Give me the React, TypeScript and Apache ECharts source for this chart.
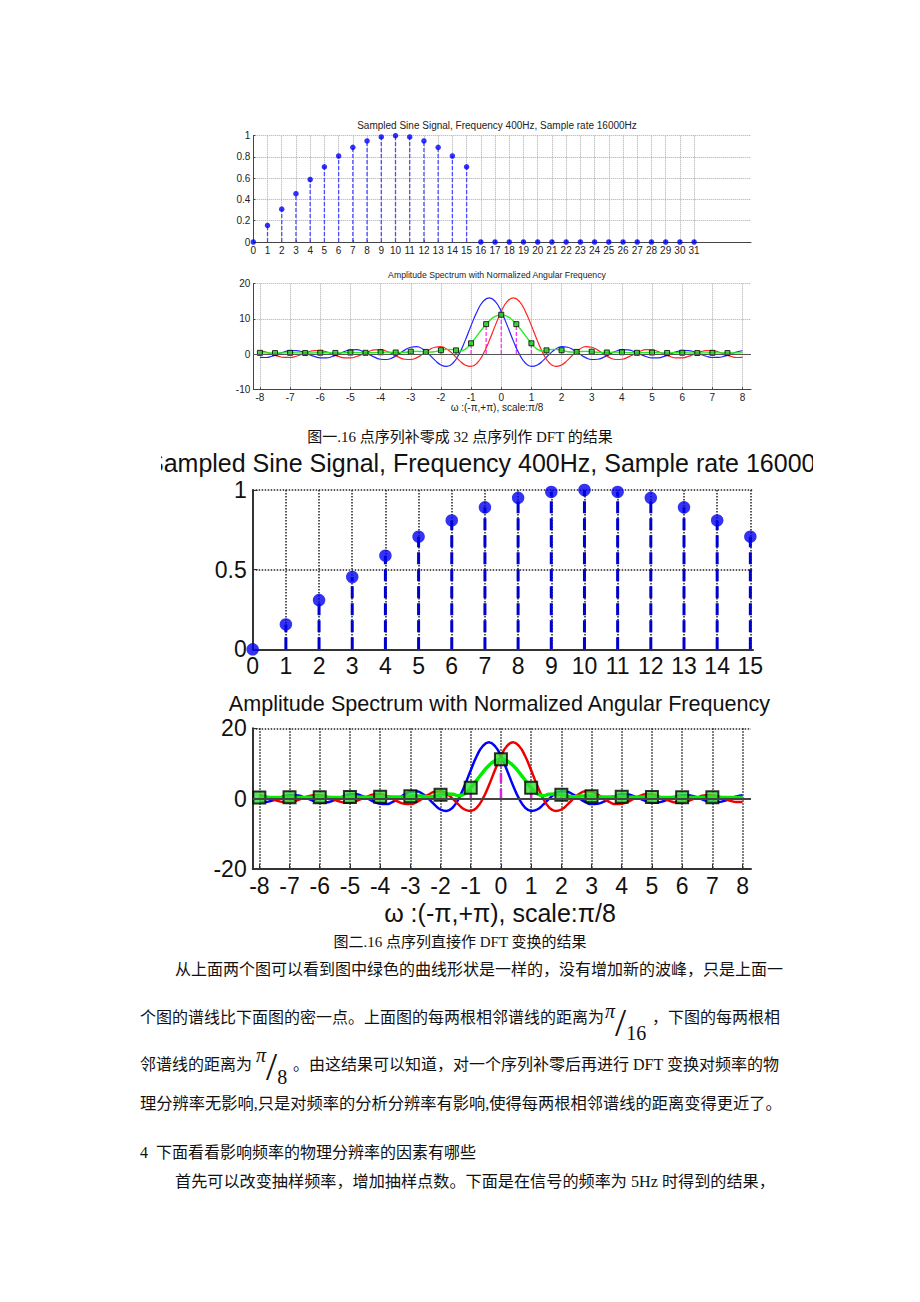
import React, { useEffect, useRef } from "react";
import * as echarts from "echarts";

// ---------- Figure 1 / Figure 2 : sampled sine ----------
const sampleIndex32 = [0, 1, 2, 3, 4, 5, 6, 7, 8, 9, 10, 11, 12, 13, 14, 15, 16, 17, 18, 19, 20, 21, 22, 23, 24, 25, 26, 27, 28, 29, 30, 31];
const zeroPadded32 = [0, 0.156, 0.309, 0.454, 0.588, 0.707, 0.809, 0.891, 0.951, 0.988, 1, 0.988, 0.951, 0.891, 0.809, 0.707, 0, 0, 0, 0, 0, 0, 0, 0, 0, 0, 0, 0, 0, 0, 0, 0];
const sampleIndex16 = [0, 1, 2, 3, 4, 5, 6, 7, 8, 9, 10, 11, 12, 13, 14, 15];
const sineSamples16 = [0, 0.156, 0.309, 0.454, 0.588, 0.707, 0.809, 0.891, 0.951, 0.988, 1, 0.988, 0.951, 0.891, 0.809, 0.707];

// ---------- spectrum curves (omega in units of pi/8) ----------
const omega = [-8, -7.8, -7.6, -7.4, -7.2, -7, -6.8, -6.6, -6.4, -6.2, -6, -5.8, -5.6, -5.4, -5.2, -5, -4.8, -4.6, -4.4, -4.2, -4, -3.8, -3.6, -3.4, -3.2, -3, -2.8, -2.6, -2.4, -2.2, -2, -1.8, -1.6, -1.4, -1.2, -1, -0.8, -0.6, -0.4, -0.2, 0, 0.2, 0.4, 0.6, 0.8, 1, 1.2, 1.4, 1.6, 1.8, 2, 2.2, 2.4, 2.6, 2.8, 3, 3.2, 3.4, 3.6, 3.8, 4, 4.2, 4.4, 4.6, 4.8, 5, 5.2, 5.4, 5.6, 5.8, 6, 6.2, 6.4, 6.6, 6.8, 7, 7.2, 7.4, 7.6, 7.8, 8];
const blueCurve = [-0.95, -0.96, -0.6, 0, 0.61, 0.99, 1.0, 0.63, 0, -0.65, -1.07, -1.09, -0.69, 0, 0.73, 1.21, 1.25, 0.8, 0, -0.87, -1.46, -1.54, -1.0, 0, 1.13, 1.95, 2.1, 1.4, 0, -1.7, -3.08, -3.5, -2.52, 0, 3.76, 8.09, 12.12, 14.97, 16, 14.97, 12.12, 8.09, 3.76, 0, -2.52, -3.5, -3.08, -1.7, 0, 1.4, 2.1, 1.95, 1.13, 0, -1.0, -1.54, -1.46, -0.87, 0, 0.8, 1.25, 1.21, 0.73, 0, -0.69, -1.09, -1.07, -0.65, 0, 0.63, 1.0, 0.99, 0.61, 0, -0.6, -0.96, -0.95, -0.59, 0, 0.59, 0.95];
const redCurve = [0.95, 0.59, 0, -0.59, -0.95, -0.96, -0.6, 0, 0.61, 0.99, 1.0, 0.63, 0, -0.65, -1.07, -1.09, -0.69, 0, 0.73, 1.21, 1.25, 0.8, 0, -0.87, -1.46, -1.54, -1.0, 0, 1.13, 1.95, 2.1, 1.4, 0, -1.7, -3.08, -3.5, -2.52, 0, 3.76, 8.09, 12.12, 14.97, 16, 14.97, 12.12, 8.09, 3.76, 0, -2.52, -3.5, -3.08, -1.7, 0, 1.4, 2.1, 1.95, 1.13, 0, -1.0, -1.54, -1.46, -0.87, 0, 0.8, 1.25, 1.21, 0.73, 0, -0.69, -1.09, -1.07, -0.65, 0, 0.63, 1.0, 0.99, 0.61, 0, -0.6, -0.96, -0.95];
const greenCurve = [0.36, 0.34, 0.3, 0.3, 0.34, 0.37, 0.36, 0.32, 0.31, 0.35, 0.4, 0.39, 0.35, 0.33, 0.38, 0.44, 0.45, 0.4, 0.37, 0.43, 0.53, 0.56, 0.5, 0.44, 0.52, 0.69, 0.78, 0.7, 0.57, 0.71, 1.09, 1.35, 1.26, 0.85, 1.35, 3.07, 5.25, 7.49, 9.42, 10.73, 11.2, 10.73, 9.42, 7.49, 5.25, 3.07, 1.35, 0.85, 1.26, 1.35, 1.09, 0.71, 0.57, 0.7, 0.78, 0.69, 0.52, 0.44, 0.5, 0.56, 0.53, 0.43, 0.37, 0.4, 0.45, 0.44, 0.38, 0.33, 0.35, 0.39, 0.4, 0.35, 0.31, 0.32, 0.36, 0.37, 0.34, 0.3, 0.3, 0.34, 0.36];

// ---------- DFT samples ----------
const dft32Freq = [-8, -7.5, -7, -6.5, -6, -5.5, -5, -4.5, -4, -3.5, -3, -2.5, -2, -1.5, -1, -0.5, 0, 0.5, 1, 1.5, 2, 2.5, 3, 3.5, 4, 4.5, 5, 5.5, 6, 6.5, 7, 7.5];
const dft32Mag = [0.36, 0.29, 0.37, 0.3, 0.4, 0.33, 0.44, 0.37, 0.53, 0.46, 0.69, 0.62, 1.09, 1.06, 3.07, 8.51, 11.2, 8.51, 3.07, 1.06, 1.09, 0.62, 0.69, 0.46, 0.53, 0.37, 0.44, 0.33, 0.4, 0.3, 0.37, 0.29];
const dft16Freq = [-8, -7, -6, -5, -4, -3, -2, -1, 0, 1, 2, 3, 4, 5, 6, 7];
const dft16Mag = [0.36, 0.37, 0.4, 0.44, 0.53, 0.69, 1.09, 3.07, 11.2, 3.07, 1.09, 0.69, 0.53, 0.44, 0.4, 0.37];

// ---------- tick labels ----------
const ticks0to31 = sampleIndex32;
const ticks0to15 = sampleIndex16;
const ticksOmega = [-8, -7, -6, -5, -4, -3, -2, -1, 0, 1, 2, 3, 4, 5, 6, 7, 8];

// ---------- texts ----------
const sineTitle = "Sampled Sine Signal, Frequency 400Hz, Sample rate 16000Hz";
const specTitle = "Amplitude Spectrum with Normalized Angular Frequency";
const omegaLabel = "ω :(-π,+π), scale:π/8";
const caption1 = "图一.16 点序列补零成 32 点序列作 DFT 的结果";
const caption2 = "图二.16 点序列直接作 DFT 变换的结果";
const para1 = "从上面两个图可以看到图中绿色的曲线形状是一样的，没有增加新的波峰，只是上面一";
const para2a = "个图的谱线比下面图的密一点。上面图的每两根相邻谱线的距离为";
const frac16 = "{p|π}{s|/}{n|16}";
const para2b = "，下图的每两根相";
const para3a = "邻谱线的距离为";
const frac8 = "{p|π}{s|/}{n|8}";
const para3b = "。由这结果可以知道，对一个序列补零后再进行 DFT 变换对频率的物";
const para4 = "理分辨率无影响,只是对频率的分析分辨率有影响,使得每两根相邻谱线的距离变得更近了。";
const para5 = "4  下面看看影响频率的物理分辨率的因素有哪些";
const para6 = "首先可以改变抽样频率，增加抽样点数。下面是在信号的频率为 5Hz 时得到的结果，";

const SANS = '"Liberation Sans", Arial, sans-serif';
const SERIF = '"Liberation Serif", "Noto Sans CJK SC", serif';
const SERIF_FAMILY = "Liberation Serif";

const zip = (a: number[], b: number[]) => a.map((v, i) => [v, b[i]]);

function stemSeries(xi: number, data: number[][], color: string, width: number, dash: number[], z = 2) {
  return {
    type: "custom",
    xAxisIndex: xi,
    yAxisIndex: xi,
    z,
    silent: true,
    data,
    encode: { x: 0, y: 1 },
    renderItem: (params: any, api: any) => {
      const p0 = api.coord([api.value(0), 0]);
      const p1 = api.coord([api.value(0), api.value(1)]);
      return {
        type: "line",
        shape: { x1: p0[0], y1: p0[1], x2: p1[0], y2: p1[1] },
        style: { stroke: color, lineWidth: width, lineDash: dash, fill: null },
      };
    },
  };
}

function text(x: number, y: number, t: string, font: string, align = "left", extra: any = {}) {
  return {
    type: "text",
    x,
    y,
    z: 10,
    silent: true,
    style: { text: t, font, fill: "#111", textAlign: align, textVerticalAlign: "middle", ...extra },
  };
}

const fracRich = {
  p: { fontSize: 20, fontStyle: "italic", fontFamily: SERIF_FAMILY, verticalAlign: "top", fill: "#111", lineHeight: 20 },
  s: { fontSize: 40, fontFamily: SERIF_FAMILY, fill: "#111", lineHeight: 42 },
  n: { fontSize: 20, fontFamily: SERIF_FAMILY, verticalAlign: "bottom", fill: "#111", lineHeight: 20 },
};

export default function App() {
  const ref = useRef<HTMLDivElement>(null);
  useEffect(() => {
    if (!ref.current) return;
    const chart = echarts.init(ref.current, null, { renderer: "svg" });

    const smallAxisLabel = { fontSize: 10, fontFamily: SANS, color: "#222" };
    const bigAxisLabel = { fontSize: 23, fontFamily: SANS, color: "#111" };
    const smallGrid = { show: true, lineStyle: { color: "#aaa", type: "dotted", width: 1 } };
    const bigGrid = { show: true, lineStyle: { color: "#222", type: "dotted", width: 1.5 } };
    const smallLine = { show: true, onZero: false, lineStyle: { color: "#444", width: 1 } };
    const bigLine = { show: true, onZero: false, lineStyle: { color: "#333", width: 2 } };

    const option: any = {
      animation: false,
      backgroundColor: "#fff",
      grid: [
        { left: 253.3, top: 135.7, width: 497.7, height: 106.3 },
        { left: 253.3, top: 283.7, width: 497.7, height: 105.6 },
        { left: 252.7, top: 490, width: 500.3, height: 159.3 },
        { left: 252.7, top: 728.3, width: 498.3, height: 140.7 },
      ],
      xAxis: [
        {
          gridIndex: 0, type: "value", min: 0, max: 35,
          axisLine: smallLine,
          axisTick: { show: true, inside: true, length: 2, customValues: ticks0to31, lineStyle: { color: "#444" } },
          axisLabel: { ...smallAxisLabel, margin: 3, customValues: ticks0to31 },
          splitLine: smallGrid,
        },
        {
          gridIndex: 1, type: "value", min: -8.22, max: 8.28,
          axisLine: smallLine,
          axisTick: { show: true, inside: true, length: 2, customValues: ticksOmega, lineStyle: { color: "#444" } },
          axisLabel: { ...smallAxisLabel, margin: 3, customValues: ticksOmega },
          splitLine: smallGrid,
        },
        {
          gridIndex: 2, type: "value", min: 0, max: 15.08,
          axisLine: bigLine,
          axisTick: { show: true, inside: true, length: 5, customValues: ticks0to15, lineStyle: { color: "#333" } },
          axisLabel: { ...bigAxisLabel, margin: 5, customValues: ticks0to15 },
          splitLine: bigGrid,
        },
        {
          gridIndex: 3, type: "value", min: -8.22, max: 8.28,
          axisLine: bigLine,
          axisTick: { show: true, inside: true, length: 5, customValues: ticksOmega, lineStyle: { color: "#333" } },
          axisLabel: { ...bigAxisLabel, margin: 5, customValues: ticksOmega },
          splitLine: bigGrid,
        },
      ],
      yAxis: [
        {
          gridIndex: 0, type: "value", min: 0, max: 1, interval: 0.2,
          axisLine: smallLine,
          axisTick: { show: true, inside: true, length: 2 },
          axisLabel: { ...smallAxisLabel, margin: 3 },
          splitLine: smallGrid,
        },
        {
          gridIndex: 1, type: "value", min: -10, max: 20, interval: 10,
          axisLine: smallLine,
          axisTick: { show: true, inside: true, length: 2 },
          axisLabel: { ...smallAxisLabel, margin: 3 },
          splitLine: smallGrid,
        },
        {
          gridIndex: 2, type: "value", min: 0, max: 1, interval: 0.5,
          axisLine: bigLine,
          axisTick: { show: true, inside: true, length: 5 },
          axisLabel: { ...bigAxisLabel, margin: 6 },
          splitLine: bigGrid,
        },
        {
          gridIndex: 3, type: "value", min: -20, max: 20, interval: 20,
          axisLine: bigLine,
          axisTick: { show: true, inside: true, length: 5 },
          axisLabel: { ...bigAxisLabel, margin: 6 },
          splitLine: bigGrid,
        },
      ],
      series: [
        // ---- figure 1, top: zero-padded samples
        stemSeries(0, zip(sampleIndex32, zeroPadded32), "#4d4dff", 1.3, [4, 2]),
        {
          type: "scatter", xAxisIndex: 0, yAxisIndex: 0, z: 3, silent: true,
          symbol: "circle", symbolSize: 5.5,
          itemStyle: { color: "#0000ff" },
          data: zip(sampleIndex32, zeroPadded32),
        },
        // ---- figure 1, bottom: spectrum
        {
          type: "line", xAxisIndex: 1, yAxisIndex: 1, showSymbol: false, smooth: true, silent: true,
          lineStyle: { color: "#2222ff", width: 1.2 },
          data: zip(omega, blueCurve),
        },
        {
          type: "line", xAxisIndex: 1, yAxisIndex: 1, showSymbol: false, smooth: true, silent: true,
          lineStyle: { color: "#ff2222", width: 1.2 },
          data: zip(omega, redCurve),
        },
        {
          type: "line", xAxisIndex: 1, yAxisIndex: 1, showSymbol: false, smooth: true, silent: true,
          lineStyle: { color: "#22ee22", width: 1.4 },
          data: zip(omega, greenCurve),
          markLine: {
            silent: true, symbol: "none", label: { show: false },
            lineStyle: { color: "#555", width: 1, type: "solid" },
            data: [{ yAxis: 0 }],
          },
        },
        stemSeries(1, zip(dft32Freq, dft32Mag), "#ff33ff", 1.3, [4, 2], 3),
        {
          type: "scatter", xAxisIndex: 1, yAxisIndex: 1, z: 4, silent: true,
          symbol: "rect", symbolSize: 5,
          itemStyle: { color: "#22cc22", borderColor: "#000", borderWidth: 1 },
          data: zip(dft32Freq, dft32Mag),
        },
        // ---- figure 2, top: 16 samples
        stemSeries(2, zip(sampleIndex16, sineSamples16), "#0000cc", 3, [12, 5]),
        {
          type: "scatter", xAxisIndex: 2, yAxisIndex: 2, z: 3, silent: true,
          symbol: "circle", symbolSize: 12.5,
          itemStyle: { color: "#0000ee" },
          data: zip(sampleIndex16, sineSamples16),
        },
        // ---- figure 2, bottom: spectrum
        {
          type: "line", xAxisIndex: 3, yAxisIndex: 3, showSymbol: false, smooth: true, silent: true,
          lineStyle: { color: "#0000ff", width: 2.5 },
          data: zip(omega, blueCurve),
        },
        {
          type: "line", xAxisIndex: 3, yAxisIndex: 3, showSymbol: false, smooth: true, silent: true,
          lineStyle: { color: "#ee0000", width: 2.5 },
          data: zip(omega, redCurve),
        },
        {
          type: "line", xAxisIndex: 3, yAxisIndex: 3, showSymbol: false, smooth: true, silent: true,
          lineStyle: { color: "#00ee00", width: 3.5 },
          data: zip(omega, greenCurve),
          markLine: {
            silent: true, symbol: "none", label: { show: false },
            lineStyle: { color: "#444", width: 2, type: "solid" },
            data: [{ yAxis: 0 }],
          },
        },
        stemSeries(3, zip(dft16Freq, dft16Mag), "#e020e0", 2.5, [10, 6], 3),
        {
          type: "scatter", xAxisIndex: 3, yAxisIndex: 3, z: 4, silent: true,
          symbol: "rect", symbolSize: 12,
          itemStyle: { color: "#33dd33", borderColor: "#000", borderWidth: 2 },
          data: zip(dft16Freq, dft16Mag),
        },
      ],
      graphic: [
        // figure 1 texts
        text(497, 125, sineTitle, `10px ${SANS}`, "center", { fill: "#222" }),
        text(497, 274.7, specTitle, `8.7px ${SANS}`, "center", { fill: "#222" }),
        text(497, 407.7, omegaLabel, `10px ${SANS}`, "center", { fill: "#222" }),
        text(460, 437, caption1, `15px ${SERIF}`, "center"),
        // figure 2 texts (title is cropped by the picture edges)
        text(147, 463, sineTitle, `25px ${SANS}`, "left"),
        { type: "rect", z: 20, silent: true, shape: { x: 0, y: 446, width: 161, height: 33 }, style: { fill: "#fff" } },
        { type: "rect", z: 20, silent: true, shape: { x: 813, y: 446, width: 107, height: 33 }, style: { fill: "#fff" } },
        text(499.5, 703, specTitle, `21.6px ${SANS}`, "center"),
        text(500, 913, omegaLabel, `25px ${SANS}`, "center"),
        text(460, 942, caption2, `15px ${SERIF}`, "center"),
        // paragraph
        text(175, 969, para1, `16px ${SERIF}`),
        text(140, 1017, para2a, `16px ${SERIF}`),
        text(605, 1022, frac16, `20px ${SERIF}`, "left", { rich: fracRich }),
        text(652, 1017, para2b, `16px ${SERIF}`),
        text(140, 1064, para3a, `16px ${SERIF}`),
        text(256, 1066, frac8, `20px ${SERIF}`, "left", { rich: fracRich }),
        text(293, 1064, para3b, `16px ${SERIF}`),
        text(140, 1104, para4, `16.25px ${SERIF}`),
        text(140, 1152, para5, `16px ${SERIF}`),
        text(175, 1181, para6, `16.15px ${SERIF}`),
      ],
    };

    chart.setOption(option);
    return () => chart.dispose();
  }, []);

  return (
    <div
      ref={ref}
      style={{ position: "absolute", left: 0, top: 0, width: 920, height: 1302, background: "#fff" }}
    />
  );
}
